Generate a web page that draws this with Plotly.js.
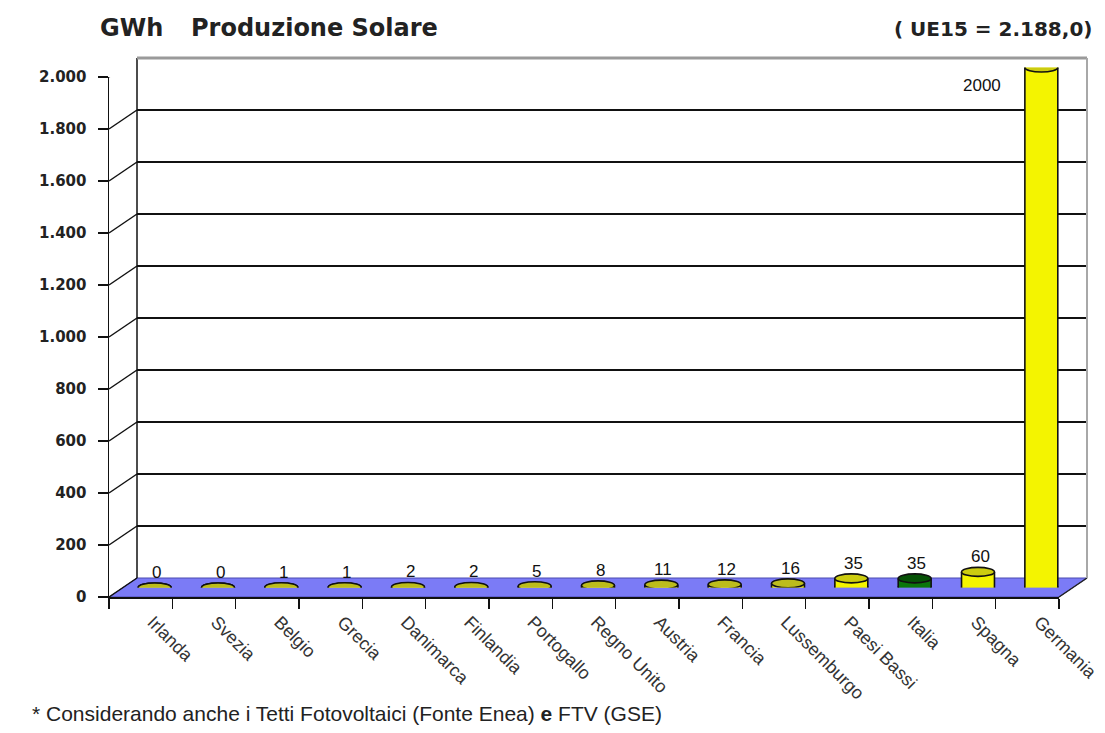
<!DOCTYPE html>
<html>
<head>
<meta charset="utf-8">
<script src="https://cdn.plot.ly/plotly-3.0.1.min.js"></script>
<style>html,body{margin:0;padding:0;background:#fff;}#chart{width:1105px;height:733px;}</style>
</head>
<body>
<div id="chart"></div>
<script>
// ---- data ----
const categories = ["Irlanda","Svezia","Belgio","Grecia","Danimarca","Finlandia","Portogallo","Regno Unito","Austria","Francia","Lussemburgo","Paesi Bassi","Italia","Spagna","Germania"];
const values = [0, 0, 1, 1, 2, 2, 5, 8, 11, 12, 16, 35, 35, 60, 2000];
const valueLabels = ["0","0","1","1","2","2","5","8","11","12","16","35","35","60","2000"];
const yTicks = [0,200,400,600,800,1000,1200,1400,1600,1800,2000];
const titleLeft = "GWh";
const titleMain = "Produzione Solare";
const titleRight = "( UE15 = 2.188,0)";
const footnote = "* Considerando anche i Tetti Fotovoltaici (Fonte Enea) <b>e</b> FTV (GSE)";

// ---- style ----
const W = 1105, H = 733;
const px = v => v / W, py = v => 1 - v / H;
const xL = 109, xR = 1059, yB = 597, yT = 77;   // front frame (pixels)
const dX = 28, dY = 19;                          // depth offset
const bargap = 0.48;
const catW = (xR - xL) / categories.length;
const hw = (1 - bargap) * catW / 2;
const ellH = 4.5;
const yellowBody = "#f4f400", yellowTop = "#cccc10";
const greenBody = "#0b760b", greenTop = "#065206";
const smallTop = "#bcbc1c";
const special = {"Italia": "green"};
const bodyColors = categories.map(c => special[c] === "green" ? greenBody : yellowBody);
const topColors = categories.map((c, i) => special[c] === "green" ? greenTop : (values[i] < 20 ? smallTop : yellowTop));
const floorColor = "#7b7bf6";

const traces = [
  {type: "scatter", mode: "none", x: categories, y: values, xaxis: "x", yaxis: "y",
   hoverinfo: "skip", showlegend: false},
  {type: "bar", x: categories, y: values, xaxis: "x2", yaxis: "y2",
   marker: {color: bodyColors, line: {width: 0}}, hoverinfo: "skip", showlegend: false},
  {type: "scatter", mode: "none", x: categories, y: values, xaxis: "x3", yaxis: "y3",
   hoverinfo: "skip", showlegend: false}
];

const shapes = [];
// floor
shapes.push({type: "path", xref: "paper", yref: "paper", layer: "below",
  path: `M ${px(xL)} ${py(yB)} L ${px(xR)} ${py(yB)} L ${px(xR + dX)} ${py(yB - dY)} L ${px(xL + dX)} ${py(yB - dY)} Z`,
  fillcolor: floorColor, line: {color: "#4b4bb0", width: 1}});
// side wall diagonals from front ticks to back wall
yTicks.forEach(v => shapes.push({type: "line", xref: "paper", yref: "y3", ysizemode: "pixel", yanchor: v,
  x0: px(xL), x1: px(xL + dX), y0: 0, y1: dY, line: {color: "#111", width: 1.5}, layer: "above"}));
// right floor diagonal
shapes.push({type: "line", xref: "paper", yref: "paper", x0: px(xR), y0: py(yB), x1: px(xR + dX), y1: py(yB - dY),
  line: {color: "#222", width: 1.5}, layer: "above"});
// back wall left edge, top and right border
shapes.push({type: "line", xref: "paper", yref: "paper", x0: px(xL + dX), y0: py(yT - dY), x1: px(xL + dX), y1: py(yB - dY),
  line: {color: "#111", width: 1.5}, layer: "above"});
shapes.push({type: "line", xref: "paper", yref: "paper", x0: px(xL + dX), y0: py(yT - dY), x1: px(xR + dX), y1: py(yT - dY),
  line: {color: "#9a9a9a", width: 3}, layer: "above"});
shapes.push({type: "line", xref: "paper", yref: "paper", x0: px(xR + dX), y0: py(yT - dY), x1: px(xR + dX), y1: py(yB - dY),
  line: {color: "#a8a8a8", width: 2}, layer: "above"});
// cylinders: bottom ellipse, sides, top ellipse
categories.forEach((c, i) => {
  shapes.push({type: "circle", xref: "x2", yref: "y2", xsizemode: "pixel", ysizemode: "pixel",
    xanchor: c, yanchor: 0, x0: -hw, x1: hw, y0: -ellH, y1: ellH,
    fillcolor: bodyColors[i], line: {color: "#111", width: 1.6}, layer: "below"});
  [-hw, hw].forEach(s => shapes.push({type: "line", xref: "x2", yref: "y2", xsizemode: "pixel",
    xanchor: c, x0: s, x1: s, y0: 0, y1: values[i], line: {color: "#111", width: 1.6}, layer: "above"}));
  shapes.push({type: "circle", xref: "x2", yref: "y2", xsizemode: "pixel", ysizemode: "pixel",
    xanchor: c, yanchor: values[i], x0: -hw, x1: hw, y0: -ellH, y1: ellH,
    fillcolor: topColors[i], line: {color: "#111", width: 1.6}, layer: "above"});
});

const maxV = Math.max(...values);
const annotations = categories.map((c, i) => ({
  xref: "x2", yref: "y2", x: c, y: values[i], text: valueLabels[i], showarrow: false,
  xanchor: "center", yanchor: "middle",
  xshift: values[i] === maxV ? -59 : 2, yshift: values[i] === maxV ? -18 : 15,
  font: {family: "Liberation Sans, Arial, sans-serif", size: 17, color: "#111"}
}));
annotations.push(
  {xref: "paper", yref: "paper", x: px(98), y: py(28), xanchor: "left", yanchor: "middle", showarrow: false,
   text: titleLeft, font: {family: "DejaVu Sans", size: 24, weight: 700, color: "#222"}},
  {xref: "paper", yref: "paper", x: px(189), y: py(28), xanchor: "left", yanchor: "middle", showarrow: false,
   text: titleMain, font: {family: "DejaVu Sans", size: 24, weight: 700, color: "#222"}},
  {xref: "paper", yref: "paper", x: px(1094), y: py(29), xanchor: "right", yanchor: "middle", showarrow: false,
   text: titleRight, font: {family: "DejaVu Sans", size: 20, weight: 700, color: "#222"}},
  {xref: "paper", yref: "paper", x: px(30), y: py(713), xanchor: "left", yanchor: "middle", showarrow: false,
   text: footnote, font: {family: "Liberation Sans, Arial, sans-serif", size: 21, color: "#222"}}
);

const hidden = {showgrid: false, zeroline: false, showline: false, showticklabels: false, ticks: ""};
const layout = {
  width: W, height: H, margin: {l: 0, r: 0, t: 0, b: 0},
  paper_bgcolor: "#fff", plot_bgcolor: "rgba(0,0,0,0)",
  separators: ",.", showlegend: false, bargap: bargap, hovermode: false,
  // back wall
  xaxis: Object.assign({}, hidden, {domain: [px(xL + dX), px(xR + dX)], type: "category",
    range: [-0.5, categories.length - 0.5], anchor: "y"}),
  yaxis: {domain: [py(yB - dY), py(yT - dY)], type: "linear", range: [0, 2000], anchor: "x",
    tickmode: "array", tickvals: yTicks.slice(1), showgrid: true, gridcolor: "#111", gridwidth: 1.5,
    zeroline: false, showticklabels: false, ticks: "", showline: false},
  // middle (cylinders)
  xaxis2: Object.assign({}, hidden, {domain: [px(xL + dX / 2), px(xR + dX / 2)], type: "category",
    range: [-0.5, categories.length - 0.5], anchor: "y2"}),
  yaxis2: Object.assign({}, hidden, {domain: [py(yB - dY / 2), py(yT - dY / 2)], range: [0, 2000], anchor: "x2"}),
  // front axes
  xaxis3: {domain: [px(xL), px(xR)], type: "category", range: [-0.5, categories.length - 0.5], anchor: "y3",
    showline: true, linecolor: "#111", linewidth: 1.5, showgrid: false, zeroline: false,
    ticks: "outside", tickson: "boundaries", ticklen: 10, tickwidth: 1.5, tickcolor: "#111",
    tickangle: 45, ticklabelstandoff: 6, ticklabelshift: 12,
    tickfont: {family: "Liberation Sans, Arial, sans-serif", size: 18, color: "#333"}},
  yaxis3: {domain: [py(yB), py(yT)], range: [0, 2000], anchor: "x3",
    tickmode: "array", tickvals: yTicks, tickformat: ",d",
    showline: true, linecolor: "#111", linewidth: 1.5, showgrid: false, zeroline: false,
    ticks: "outside", ticklen: 10, tickwidth: 1.5, tickcolor: "#111", ticklabelstandoff: 8,
    tickfont: {family: "DejaVu Sans", size: 15, weight: 700, color: "#222"}},
  shapes: shapes,
  annotations: annotations
};

Plotly.newPlot("chart", traces, layout, {displayModeBar: false, staticPlot: true});
</script>
</body>
</html>
